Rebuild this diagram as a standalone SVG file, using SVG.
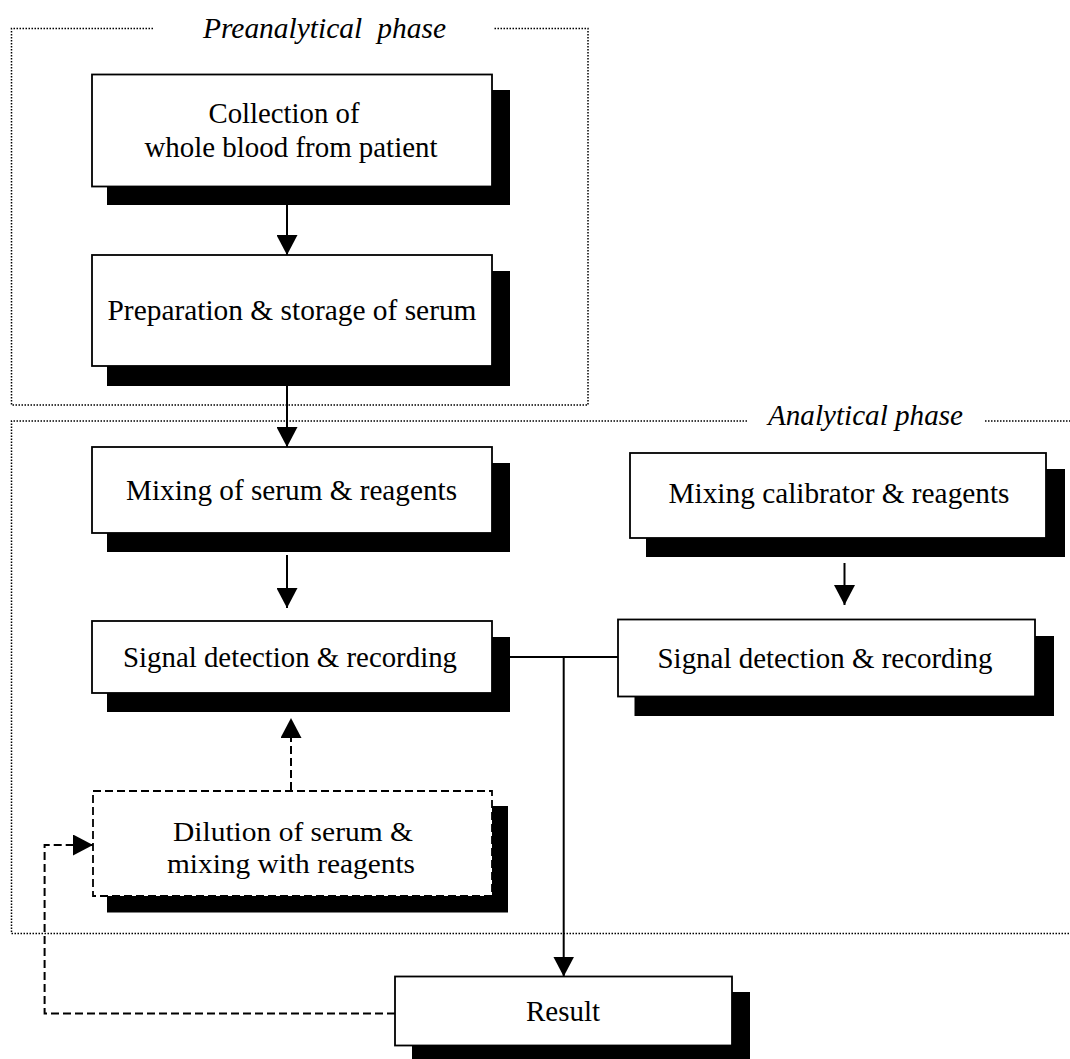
<svg xmlns="http://www.w3.org/2000/svg" width="1070" height="1059" viewBox="0 0 1070 1059">
<style>
.box{fill:#fff;stroke:#000;stroke-width:1.8}
.dbox{fill:#fff;stroke:#000;stroke-width:1.8;stroke-dasharray:8 4}
.sh{fill:#000;stroke:none}
.t{font-family:"Liberation Serif","Times New Roman",serif;font-size:30px;fill:#000;text-anchor:middle}
.sm{font-size:28px}
.it{font-style:italic}
.dot{fill:none;stroke:#000;stroke-width:1.5;stroke-dasharray:1.5 1.5}
.ln{fill:none;stroke:#000;stroke-width:2}
.dl{fill:none;stroke:#000;stroke-width:2;stroke-dasharray:8 4}
</style>
<defs>
<marker id="ah" markerUnits="userSpaceOnUse" markerWidth="21" markerHeight="21" refX="20" refY="10.5" orient="auto">
<path d="M0,0 L20,10.5 L0,21 Z" fill="#000"/>
</marker>
</defs>
<rect width="1070" height="1059" fill="#fff"/>
<g id="preanalytical-phase">
<path class="dot" d="M153,28.5 H11.5 V405 H588 V28.5 H494"/>
<text class="t it" x="324.5" y="38" textLength="243" lengthAdjust="spacingAndGlyphs" word-spacing="8">Preanalytical phase</text>
</g>
<g id="analytical-phase">
<path class="dot" d="M747,421 H11.5 V933.5 H1070"/>
<path class="dot" d="M985,421 H1070"/>
<text class="t it" x="865.5" y="425" textLength="195" lengthAdjust="spacingAndGlyphs">Analytical phase</text>
</g>
<g id="collection">
<rect class="sh" x="107" y="90" width="403" height="115"/>
<rect class="box" x="92" y="74.5" width="400" height="112"/>
<text class="t"><tspan x="284" y="123" textLength="151" lengthAdjust="spacingAndGlyphs">Collection of</tspan><tspan x="291" y="157" textLength="293" lengthAdjust="spacingAndGlyphs">whole blood from patient</tspan></text>
</g>
<g id="preparation">
<rect class="sh" x="107" y="271" width="403" height="115"/>
<rect class="box" x="92" y="255" width="400" height="111"/>
<text class="t" x="292" y="320" textLength="369" lengthAdjust="spacingAndGlyphs">Preparation &amp; storage of serum</text>
</g>
<g id="mixing-serum">
<rect class="sh" x="107" y="463" width="403" height="89"/>
<rect class="box" x="92" y="447" width="400" height="86"/>
<text class="t" x="291.5" y="500" textLength="331" lengthAdjust="spacingAndGlyphs">Mixing of serum &amp; reagents</text>
</g>
<g id="signal-left">
<rect class="sh" x="107" y="637" width="403" height="75"/>
<rect class="box" x="92" y="621" width="400" height="72"/>
<text class="t" x="290" y="667" textLength="334" lengthAdjust="spacingAndGlyphs">Signal detection &amp; recording</text>
</g>
<g id="mixing-calibrator">
<rect class="sh" x="646" y="469" width="419" height="88"/>
<rect class="box" x="630" y="453" width="416" height="85"/>
<text class="t" x="839" y="503" textLength="341" lengthAdjust="spacingAndGlyphs">Mixing calibrator &amp; reagents</text>
</g>
<g id="signal-right">
<rect class="sh" x="634.5" y="636" width="419.5" height="80"/>
<rect class="box" x="618" y="619.5" width="417" height="77"/>
<text class="t" x="825" y="668" textLength="335" lengthAdjust="spacingAndGlyphs">Signal detection &amp; recording</text>
</g>
<g id="dilution">
<rect class="sh" x="107" y="806" width="401" height="106.5"/>
<rect class="dbox" x="93" y="791" width="399" height="105"/>
<text class="t sm"><tspan x="293" y="841" textLength="240" lengthAdjust="spacingAndGlyphs">Dilution of serum &amp;</tspan><tspan x="291" y="873" textLength="248" lengthAdjust="spacingAndGlyphs">mixing with reagents</tspan></text>
</g>
<g id="result">
<rect class="sh" x="412" y="992" width="338" height="70"/>
<rect class="box" x="395" y="976.5" width="337" height="69"/>
<text class="t" x="563" y="1021" textLength="74" lengthAdjust="spacingAndGlyphs">Result</text>
</g>
<g id="connectors">
<path class="ln" d="M287,205 V255" marker-end="url(#ah)"/>
<path class="ln" d="M287,386 V447" marker-end="url(#ah)"/>
<path class="ln" d="M287,555 V608" marker-end="url(#ah)"/>
<path class="ln" d="M844.5,563 V605" marker-end="url(#ah)"/>
<path class="ln" d="M510,657 H618"/>
<path class="ln" d="M563.7,657 V976.5" marker-end="url(#ah)"/>
<path class="dl" d="M291,790 V718" marker-end="url(#ah)"/>
<path class="dl" d="M395,1013.5 H44.6 V845 H93" marker-end="url(#ah)"/>
</g>
</svg>
